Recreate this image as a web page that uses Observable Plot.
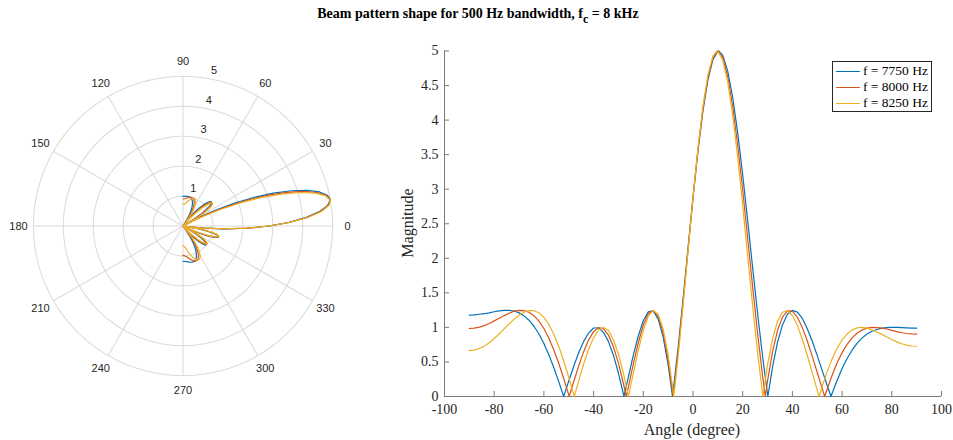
<!DOCTYPE html>
<html>
<head>
<meta charset="utf-8">
<script src="https://cdn.jsdelivr.net/npm/d3@7"></script>
<script src="https://cdn.jsdelivr.net/npm/@observablehq/plot@0.6"></script>
<style>
  body { margin: 0; background: #fff; }
  #fig { position: relative; width: 953px; height: 440px; background: #fff; overflow: hidden; }
  #title { position: absolute; left: 0; top: 6px; width: 956px; text-align: center;
           font-family: "Liberation Serif", "Times New Roman", serif; font-weight: bold; font-size: 14px; color: #000; }
  #title sub { font-size: 12px; vertical-align: -5px; line-height: 0; }
  #polar { position: absolute; left: 3px; top: 46px; }
  #cart { position: absolute; left: 390px; top: 30px; }
  .lab { position: absolute; font-family: "Liberation Serif", "Times New Roman", serif; font-size: 16px; color: #262626; white-space: nowrap; }
  #xlab { left: 692px; top: 421px; transform: translateX(-50%); }
  #ylab { left: 408px; top: 223px; transform: translate(-50%, -50%) rotate(-90deg); }
  #legend { position: absolute; left: 832px; top: 61px; width: 98px; height: 49px; border: 1px solid #262626; background: #fff;
            font-family: "Liberation Serif", "Times New Roman", serif; font-size: 13.5px; color: #000; }
  .row { position: absolute; left: 0; height: 16px; line-height: 16px; white-space: nowrap; }
  .sw { position: absolute; left: 3px; top: 8px; width: 24px; border-top: 1.3px solid; }
  .tx { position: absolute; left: 30px; top: 0; }
</style>
</head>
<body>
<div id="fig">
  <div id="title">Beam pattern shape for 500 Hz bandwidth, f<sub>c</sub> = 8 kHz</div>
  <div id="polar"></div>
  <div id="cart"></div>
  <div id="xlab" class="lab">Angle (degree)</div>
  <div id="ylab" class="lab">Magnitude</div>
  <div id="legend"></div>
</div>
<script>
// ---- data ----
const seriesNames = ["f = 7750 Hz", "f = 8000 Hz", "f = 8250 Hz"];
const seriesColors = ["#0072BD", "#D95319", "#EDB120"];

const angles = [-90,-88,-86,-84,-82,-80,-78,-76,-74,-72,-70,-68,-66,-64,-62,-60,-58,-56,-54,-52,
  -50,-48,-46,-44,-42,-40,-38,-36,-34,-32,-30,-28,-26,-24,-22,-20,-18,-16,-14,-12,
  -10,-8,-6,-4,-2,0,2,4,6,8,10,12,14,16,18,20,22,24,26,28,
  30,32,34,36,38,40,42,44,46,48,50,52,54,56,58,60,62,64,66,68,
  70,72,74,76,78,80,82,84,86,88,90];

const mag7750 = [1.179,1.182,1.190,1.198,1.211,1.226,1.238,1.246,1.246,1.237,1.210,1.167,1.104,1.017,0.905,0.766,0.602,0.416,0.212,0.005,
  0.224,0.438,0.632,0.797,0.918,0.991,0.994,0.927,0.794,0.594,0.336,0.036,0.284,0.598,0.879,1.097,1.225,1.238,1.119,0.859,
  0.457,0.072,0.705,1.410,2.148,2.878,3.555,4.134,4.582,4.874,4.998,4.936,4.705,4.322,3.811,3.207,2.545,1.864,1.199,0.579,
  0.032,0.425,0.782,1.036,1.191,1.246,1.221,1.129,0.981,0.799,0.591,0.374,0.159,0.047,0.236,0.404,0.549,0.670,0.768,0.845,
  0.904,0.944,0.970,0.990,0.997,1.000,0.999,0.996,0.993,0.990,0.989];

const mag8000 = [0.984,0.990,1.005,1.026,1.056,1.094,1.132,1.171,1.205,1.235,1.246,1.242,1.219,1.170,1.092,0.984,0.844,0.674,0.477,0.257,
  0.023,0.214,0.443,0.649,0.820,0.938,0.997,0.979,0.887,0.719,0.480,0.188,0.138,0.471,0.781,1.035,1.199,1.246,1.156,0.918,
  0.531,0.005,0.639,1.363,2.124,2.878,3.574,4.166,4.618,4.901,5.000,4.903,4.627,4.195,3.636,2.988,2.291,1.586,0.911,0.298,
  0.226,0.646,0.954,1.149,1.239,1.235,1.146,0.997,0.803,0.580,0.347,0.113,0.108,0.310,0.487,0.635,0.755,0.848,0.916,0.961,
  0.990,1.000,0.998,0.990,0.977,0.958,0.939,0.923,0.912,0.905,0.902];

const mag8250 = [0.664,0.672,0.695,0.729,0.778,0.840,0.905,0.978,1.049,1.119,1.177,1.220,1.244,1.242,1.211,1.145,1.043,0.901,0.723,0.514,
  0.278,0.027,0.227,0.470,0.684,0.852,0.962,1.000,0.954,0.822,0.612,0.333,0.008,0.339,0.673,0.958,1.160,1.246,1.192,0.977,
  0.601,0.076,0.573,1.316,2.100,2.878,3.594,4.199,4.653,4.926,4.998,4.862,4.545,4.064,3.455,2.763,2.034,1.311,0.634,0.036,
  0.459,0.835,1.087,1.219,1.243,1.173,1.030,0.828,0.593,0.343,0.092,0.146,0.360,0.546,0.699,0.819,0.904,0.960,0.992,1.000,
  0.990,0.965,0.934,0.899,0.860,0.825,0.791,0.763,0.743,0.731,0.727];

// angles of the nulls (magnitude ~0) and of the main-lobe peak (magnitude 5)
const nulls7750 = [-52.05, -27.77, -8.24, 30.12, 55.53];
const nulls8000 = [-49.82, -26.83, -7.98, 29.09, 52.99];
const nulls8250 = [-47.79, -25.96, -7.74, 28.13, 50.75];
const peakAngle = [10.32, 10, 9.69];
const peakValue = 5;

// tick labels
const xTicks = [-100,-80,-60,-40,-20,0,20,40,60,80,100];
const yTicks = [0,0.5,1,1.5,2,2.5,3,3.5,4,4.5,5];
const rRings = [1,2,3,4,5];
const thetaTicks = [0,30,60,90,120,150,180,210,240,270,300,330];

// ---- build table ----
const mags = [mag7750, mag8000, mag8250];
const nullSets = [nulls7750, nulls8000, nulls8250];
const rows = [];
seriesNames.forEach((s, k) => {
  const pts = angles.map((a, i) => ({s, a, v: mags[k][i]}));
  nullSets[k].forEach(a => pts.push({s, a, v: 0}));
  if (!angles.includes(peakAngle[k])) pts.push({s, a: peakAngle[k], v: peakValue});
  pts.sort((p, q) => p.a - q.a);
  rows.push(...pts);
});
const color = {domain: seriesNames, range: seriesColors};
const rad = Math.PI / 180;

// ---- polar plot ----
const gridCol = "#dcdcdc";
const ringPts = rRings.flatMap(r => d3.range(0, 361, 2).map(t => ({r, t})));
const polar = Plot.plot({
  width: 359, height: 359,
  margin: 0,
  x: {domain: [-6, 6], axis: null},
  y: {domain: [-6, 6], axis: null},
  color,
  style: {fontFamily: "'Liberation Sans', Arial, Helvetica, sans-serif", fontSize: "11px", color: "#262626", background: "transparent", overflow: "visible"},
  marks: [
    Plot.line(ringPts, {x: d => d.r * Math.cos(d.t * rad), y: d => d.r * Math.sin(d.t * rad), z: "r", stroke: gridCol, strokeWidth: 1.1}),
    Plot.link(thetaTicks, {x1: d => 0, y1: d => 0, x2: d => 5 * Math.cos(d * rad), y2: d => 5 * Math.sin(d * rad), stroke: gridCol, strokeWidth: 1.1}),
    Plot.text(thetaTicks, {x: d => 5.5 * Math.cos(d * rad), y: d => 5.5 * Math.sin(d * rad), text: d => String(d), fill: "#262626"}),
    Plot.text(rRings, {x: d => d * Math.cos(80 * rad), y: d => d * Math.sin(80 * rad), text: d => String(d), dx: 5, dy: -8, fill: "#262626"}),
    Plot.line(rows, {x: d => d.v * Math.cos(d.a * rad), y: d => d.v * Math.sin(d.a * rad), z: "s", stroke: "s", strokeWidth: 1.2})
  ]
});
document.getElementById("polar").appendChild(polar);

// ---- cartesian plot ----
const axisCol = "#7a7a7a";
const cart = Plot.plot({
  width: 563, height: 410,
  marginLeft: 54, marginRight: 12, marginTop: 20.5, marginBottom: 44,
  x: {domain: [-100, 100]},
  y: {domain: [0, 5]},
  color,
  style: {fontFamily: "'Liberation Serif', 'Times New Roman', serif", fontSize: "14px", color: "#262626", background: "transparent", overflow: "visible"},
  marks: [
    Plot.axisX(xTicks, {tickSize: -5, tickFormat: () => "", label: null, stroke: axisCol}),
    Plot.axisX(xTicks, {tickSize: 0, tickPadding: 8, tickFormat: d => String(d), label: null, fill: "#262626"}),
    Plot.axisY(yTicks, {tickSize: -5, tickFormat: () => "", label: null, stroke: axisCol}),
    Plot.axisY(yTicks, {tickSize: 0, tickPadding: 6, tickFormat: d => String(d), label: null, fill: "#262626"}),
    Plot.ruleY([0], {stroke: axisCol}),
    Plot.ruleX([-100], {stroke: axisCol}),
    Plot.line(rows, {x: "a", y: "v", z: "s", stroke: "s", strokeWidth: 1.2})
  ]
});
document.getElementById("cart").appendChild(cart);

// ---- legend ----
const leg = document.getElementById("legend");
seriesNames.forEach((s, k) => {
  const row = document.createElement("div");
  row.className = "row";
  row.style.top = (1 + k * 16) + "px";
  const sw = document.createElement("div");
  sw.className = "sw";
  sw.style.borderTopColor = seriesColors[k];
  const tx = document.createElement("div");
  tx.className = "tx";
  tx.textContent = s;
  row.appendChild(sw); row.appendChild(tx);
  leg.appendChild(row);
});
</script>
</body>
</html>
